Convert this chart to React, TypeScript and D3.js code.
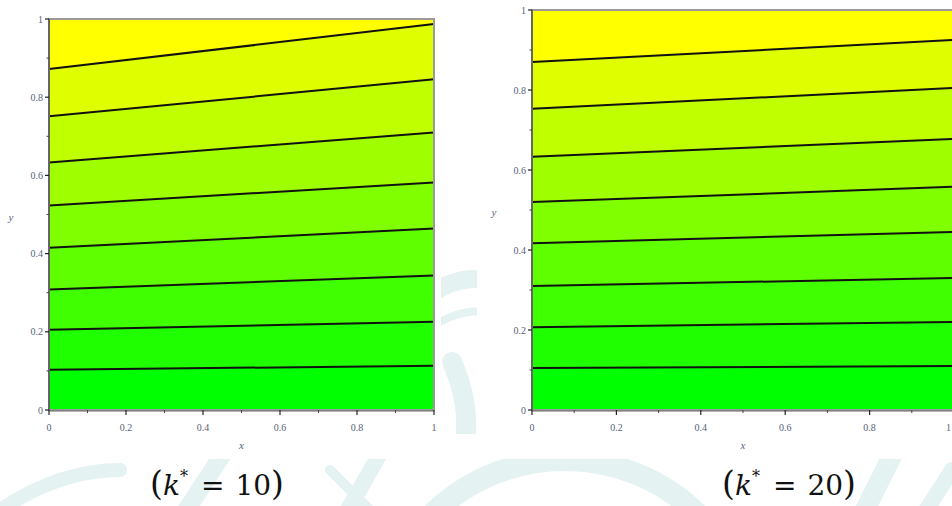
import React from "react";
import * as d3 from "d3";

// Contour levels: y value where each contour crosses x = 0 and x = 1
const k10Start = [0.103, 0.205, 0.308, 0.415, 0.523, 0.633, 0.751, 0.872];
const k10End = [0.113, 0.226, 0.344, 0.464, 0.582, 0.71, 0.846, 0.987];
const k20Start = [0.105, 0.207, 0.31, 0.417, 0.52, 0.633, 0.753, 0.87];
const k20End = [0.11, 0.22, 0.33, 0.445, 0.558, 0.678, 0.805, 0.925];

const majorTicks = [0, 0.2, 0.4, 0.6, 0.8, 1];
const minorTicks = [0.1, 0.3, 0.5, 0.7, 0.9];
const tickLabels = ["0", "0.2", "0.4", "0.6", "0.8", "1"];

const W = 952;
const H = 506;

type PanelProps = {
  id: string;
  left: number;
  right: number;
  top: number;
  bottom: number;
  starts: number[];
  ends: number[];
};

function Panel({ id, left, right, top, bottom, starts, ends }: PanelProps) {
  const xs = d3.scaleLinear().domain([0, 1]).range([left, right]);
  const ys = d3.scaleLinear().domain([0, 1]).range([bottom, top]);
  const color = d3.interpolateRgb("#00ff00", "#ffff00");

  const bounds: [number, number][] = [
    [0, 0],
    ...starts.map((s, i) => [s, ends[i]] as [number, number]),
    [1, 1],
  ];

  type Seg = { t: number; lo: number; hi: number };
  const area = d3
    .area<Seg>()
    .x((d) => xs(d.t))
    .y0((d) => ys(d.lo))
    .y1((d) => ys(d.hi));
  const line = d3
    .line<[number, number]>()
    .x((d) => xs(d[0]))
    .y((d) => ys(d[1]));

  const bands = d3.range(bounds.length - 1).map((i) => {
    const lo = bounds[i];
    const hi = bounds[i + 1];
    return {
      d: area([
        { t: 0, lo: lo[0], hi: hi[0] },
        { t: 1, lo: lo[1], hi: hi[1] },
      ]) as string,
      fill: color(i / (bounds.length - 2)),
    };
  });

  const tickFont = "'Liberation Serif', 'Times New Roman', serif";
  const tickColor = "#56627a";

  return (
    <g>
      <defs>
        <clipPath id={`clip-${id}`}>
          <rect x={left} y={top} width={right - left} height={bottom - top} />
        </clipPath>
      </defs>
      <g clipPath={`url(#clip-${id})`}>
        {bands.map((b, i) => (
          <path key={i} d={b.d} fill={b.fill} />
        ))}
        {starts.map((s, i) => (
          <path
            key={i}
            d={line([
              [0, s],
              [1, ends[i]],
            ]) as string}
            fill="none"
            stroke="#111"
            strokeWidth={2}
          />
        ))}
      </g>
      {/* frame */}
      <rect
        x={left}
        y={top}
        width={right - left}
        height={bottom - top}
        fill="none"
        stroke="#9a9a9a"
        strokeWidth={2}
      />
      <line x1={left} x2={left} y1={top} y2={bottom} stroke="#555" strokeWidth={1.5} />
      <line x1={left} x2={right} y1={bottom + 1} y2={bottom + 1} stroke="#666" strokeWidth={1.2} />

      {/* y axis ticks */}
      {majorTicks.map((t, i) => (
        <g key={`y${i}`}>
          <line x1={left - 4} x2={left} y1={ys(t)} y2={ys(t)} stroke="#222" strokeWidth={1.2} />
          <text
            x={left - 6}
            y={ys(t)}
            dy="0.35em"
            textAnchor="end"
            fontFamily={tickFont}
            fontSize={10}
            fill={tickColor}
          >
            {tickLabels[i]}
          </text>
        </g>
      ))}
      {minorTicks.map((t, i) => (
        <line key={`ym${i}`} x1={left - 2.5} x2={left} y1={ys(t)} y2={ys(t)} stroke="#444" strokeWidth={1} />
      ))}

      {/* x axis ticks */}
      {majorTicks.map((t, i) => {
        const px = xs(t);
        const clipped = px > W - 4;
        return (
          <g key={`x${i}`}>
            <line x1={px} x2={px} y1={bottom} y2={bottom + 5} stroke="#222" strokeWidth={1.2} />
            <text
              x={clipped ? W - 1 : px}
              y={431}
              textAnchor={clipped ? "end" : "middle"}
              fontFamily={tickFont}
              fontSize={10}
              fill={tickColor}
            >
              {tickLabels[i]}
            </text>
          </g>
        );
      })}
      {minorTicks.map((t, i) => (
        <line key={`xm${i}`} x1={xs(t)} x2={xs(t)} y1={bottom} y2={bottom + 3} stroke="#444" strokeWidth={1} />
      ))}

      {/* axis titles */}
      <text
        x={(left + right) / 2}
        y={449}
        textAnchor="middle"
        fontFamily={tickFont}
        fontStyle="italic"
        fontSize={11}
        fill={tickColor}
      >
        x
      </text>
      <text
        x={left - 38}
        y={(top + bottom) / 2 + 6}
        textAnchor="middle"
        fontFamily={tickFont}
        fontStyle="italic"
        fontSize={11}
        fill={tickColor}
      >
        y
      </text>
    </g>
  );
}

function Caption({ cx, value }: { cx: number; value: string }) {
  return (
    <text
      x={cx}
      y={495}
      textAnchor="middle"
      fontFamily="'DejaVu Serif', 'Liberation Serif', serif"
      fontSize={28}
      fill="#111"
    >
      <tspan fontSize={33}>(</tspan>
      <tspan fontStyle="italic">k</tspan>
      <tspan fontSize={16} dy={-13}>*</tspan>
      <tspan dy={13} dx={13}>=</tspan>
      <tspan dx={11}>{value}</tspan>
      <tspan fontSize={33}>)</tspan>
    </text>
  );
}

export default function App() {
  return (
    <svg width={W} height={H} style={{ display: "block", position: "absolute", left: 0, top: 0 }}>
      <rect width={W} height={H} fill="#fff" />
      {/* faint background emblem */}
      <defs>
        <clipPath id="wm-clip">
          <rect x={441} y={262} width={36} height={172} />
          <rect x={0} y={459} width={W} height={H - 459} />
        </clipPath>
      </defs>
      <g clipPath="url(#wm-clip)" fill="none" stroke="#e5f2f2" strokeLinecap="round">
        <circle cx={565} cy={650} r={190} strokeWidth={22} />
        <path d="M 180 520 L 232 440" strokeWidth={18} />
        <path d="M 345 515 L 385 445" strokeWidth={16} />
        <path d="M 330 470 L 372 512" strokeWidth={10} />
        <path d="M 860 520 L 895 450" strokeWidth={20} />
        <path d="M 920 520 L 952 470" strokeWidth={16} />
        <path d="M 0 510 Q 60 470 120 470" strokeWidth={14} />
        <path d="M 430 295 Q 460 272 500 282" strokeWidth={18} />
        <path d="M 440 322 Q 465 308 495 312" strokeWidth={8} />
        <path d="M 452 362 Q 468 398 466 432" strokeWidth={20} />
      </g>

      <Panel id="a" left={49} right={434} top={19} bottom={410} starts={k10Start} ends={k10End} />
      <Panel id="b" left={532} right={954} top={10} bottom={410} starts={k20Start} ends={k20End} />

      <Caption cx={217} value="10" />
      <Caption cx={789} value="20" />
    </svg>
  );
}
